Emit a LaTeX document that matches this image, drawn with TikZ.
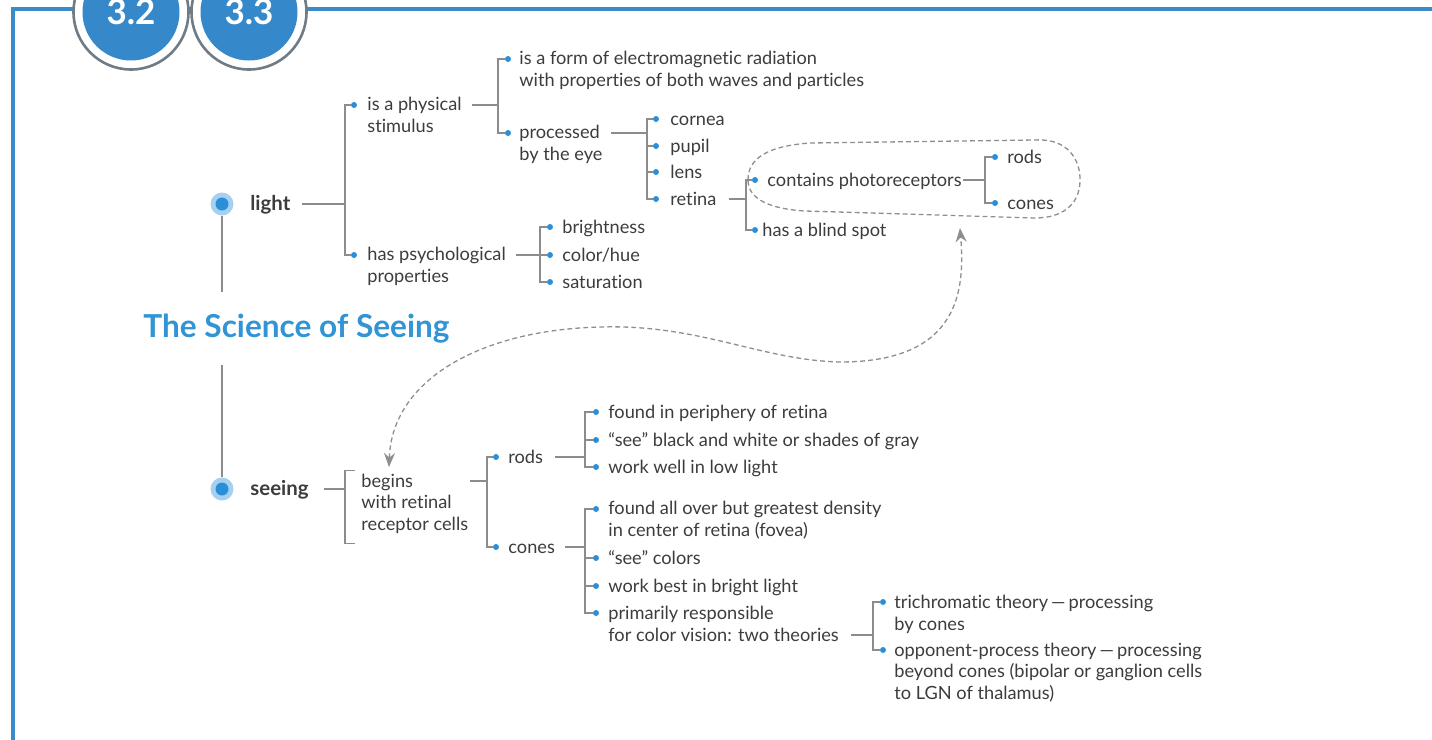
\documentclass[tikz,border=0pt]{standalone}
\usepackage{fontspec}
\setmainfont{Lato}[Ligatures=NoCommon]
\usepackage{tikz}
\usetikzlibrary{arrows.meta}

\definecolor{frameblue}{HTML}{3A8CC9}
\definecolor{badgeblue}{HTML}{3589CA}
\definecolor{ringgray}{HTML}{6F7B85}
\definecolor{dotblue}{HTML}{2B8FD7}
\definecolor{haloblue}{HTML}{A6D0F0}
\definecolor{titleblue}{HTML}{3094D5}
\definecolor{linegray}{HTML}{8C8C8C}
\definecolor{dashgray}{HTML}{8E8E8E}
\definecolor{textgray}{HTML}{3C3C3C}

\begin{document}
\begin{tikzpicture}[x=0.5pt, y=-0.5pt,
  frame/.style={draw=frameblue, line width=1.8pt},
  ring/.style={draw=ringgray, line width=1.3pt, fill=white},
  badge/.style={text=white, font=\bfseries\fontsize{17.5}{20}\selectfont},
  halo/.style={circle, fill=haloblue, inner sep=0pt, minimum size=11.5pt},
  core/.style={circle, fill=dotblue, inner sep=0pt, minimum size=6.5pt},
  topic/.style={anchor=mid west, inner sep=0pt, yshift=-0.5pt, text=textgray, font=\bfseries\fontsize{10.2}{12}\selectfont},
  heading/.style={anchor=base west, inner sep=0pt, text=titleblue, font=\bfseries\fontsize{15.8}{18}\selectfont},
  item/.style={anchor=mid west, inner sep=0pt, yshift=-0.5pt, align=left, text=textgray, font=\fontsize{9.1}{10.75}\selectfont},
  bullet/.style={circle, fill=dotblue, inner sep=0pt, minimum size=3pt},
  link/.style={draw=linegray, line width=0.6pt},
  dashlink/.style={draw=dashgray, line width=0.65pt, dash pattern=on 2.4pt off 1.6pt},
  twohead/.style={{Stealth[length=7pt,width=5.5pt]}-{Stealth[length=7pt,width=5.5pt]}}]
\useasboundingbox (0,0) rectangle (1432,740);

% frame and section badges
\draw[frame] (13,740) -- (13,9) -- (1432,9);
\foreach \cx/\num/\nm in {131/3.2/ba, 249/3.3/bb} {
  \draw[ring] (\cx,12) circle (57.5);
  \fill[badgeblue] (\cx,12) circle (48.5);
  \node[badge] (\nm) at (\cx,12) {\num};
}

% main topics
\node[halo] (ldot) at (222,204) {};
\node[core] (ldotc) at (222,204) {};
\node[topic] (light) at (250,204) {light};
\node[halo] (sdot) at (222,489) {};
\node[core] (sdotc) at (222,489) {};
\node[topic] (seeing) at (250,489) {seeing};
\node[heading] (title) at (143,337) {The Science of Seeing};
\draw[link] (ldot) -- ++(0,88);
\draw[link] (sdot) -- ++(0,-124);

% light (multi-line items are placed by their last line)
\node[bullet] (d1) at (354,105) {}; \node[item] (phys) at (367,126) {is a physical\\stimulus};
\node[bullet] (d2) at (354,255) {}; \node[item] (psych) at (367,276) {has psychological\\properties};
\coordinate (j1) at (345,204);
\draw[link] (j1 -| light.east) ++(11,0) -- (j1) |- (d1);
\draw[link] (j1) |- (d2);

\node[bullet] (d3) at (508,59) {}; \node[item] (form) at (519,80) {is a form of electromagnetic radiation\\with properties of both waves and particles};
\node[bullet] (d4) at (508,133) {}; \node[item] (proc) at (519,154) {processed\\by the eye};
\coordinate (j2) at (498,105);
\draw[link] (j2 -| phys.east) ++(10,0) -- (j2) |- (d3);
\draw[link] (j2) |- (d4);

\node[bullet] (d5) at (656,119) {}; \node[item] (cornea) at (670,119) {cornea};
\node[bullet] (d6) at (656,146) {}; \node[item] (pupil) at (670,146) {pupil};
\node[bullet] (d7) at (656,172) {}; \node[item] (lens) at (670,172) {lens};
\node[bullet] (d8) at (656,199) {}; \node[item] (retina) at (670,199) {retina};
\coordinate (j3) at (647,133);
\draw[link] (j3 -| proc.east) ++(8,0) -- (j3) |- (d5);
\foreach \d in {d6,d7,d8} \draw[link] (j3) |- (\d);

\node[bullet] (d9) at (755,180) {}; \node[item] (photo) at (767,180) {contains photoreceptors};
\node[bullet] (d10) at (755,230) {}; \node[item] (blind) at (762,230) {has a blind spot};
\coordinate (j4) at (746,199);
\draw[link] (j4 -| retina.east) ++(12,0) -- (j4) |- (d9);
\draw[link] (j4) |- (d10);

\node[bullet] (d11) at (995,157) {}; \node[item] (prods) at (1007,157) {rods};
\node[bullet] (d12) at (995,203) {}; \node[item] (pcones) at (1007,203) {cones};
\coordinate (j5) at (985,180);
\draw[link] (j5 -| photo.east) ++(1,0) -- (j5) |- (d11);
\draw[link] (j5) |- (d12);

\node[bullet] (d13) at (550,227) {}; \node[item] (bright) at (562,227) {brightness};
\node[bullet] (d14) at (550,255) {}; \node[item] (hue) at (562,255) {color/hue};
\node[bullet] (d15) at (550,282) {}; \node[item] (sat) at (562,282) {saturation};
\coordinate (j6) at (540,255);
\draw[link] (j6 -| psych.east) ++(10,0) -- (j6) |- (d13);
\foreach \d in {d14,d15} \draw[link] (j6) |- (\d);

% photoreceptors highlight
\draw[dashlink] (748,180) .. controls (748,158) and (768,146) .. (810,143)
  -- (1035,140) .. controls (1068,138) and (1081,160) .. (1080,182)
  .. controls (1079,205) and (1062,218) .. (1035,218)
  -- (805,211) .. controls (772,209) and (748,200) .. cycle;

% seeing
\node[item] (begins) at (361,524) {begins\\with retinal\\receptor cells};
\coordinate (sj) at (345,489);
\draw[link] (sj -| seeing.east) ++(15,0) -- (sj);
\draw[link] ([xshift=-3pt,yshift=1.5pt]begins.north west) -- ++(-10,0) |- ([xshift=-3pt,yshift=-5pt]begins.south west);

\node[bullet] (e1) at (496,457) {}; \node[item] (rods) at (508,457) {rods};
\node[bullet] (e2) at (496,547) {}; \node[item] (cones) at (508,547) {cones};
\coordinate (j7) at (487,481);
\draw[link] (j7 -| begins.east) ++(1,0) -- (j7) |- (e1);
\draw[link] (j7) |- (e2);

\node[bullet] (e3) at (596,412) {}; \node[item] (periph) at (608,412) {found in periphery of retina};
\node[bullet] (e4) at (596,440) {}; \node[item] (bw) at (608,440) {“see” black and white or shades of gray};
\node[bullet] (e5) at (596,467) {}; \node[item] (low) at (608,467) {work well in low light};
\coordinate (j8) at (585,457);
\draw[link] (j8 -| rods.east) ++(12,0) -- (j8) |- (e3);
\foreach \d in {e4,e5} \draw[link] (j8) |- (\d);

\node[bullet] (e6) at (596,509) {}; \node[item] (fovea) at (608,530) {found all over but greatest density\\in center of retina (fovea)};
\node[bullet] (e7) at (596,558) {}; \node[item] (colors) at (608,558) {“see” colors};
\node[bullet] (e8) at (596,586) {}; \node[item] (brightl) at (608,586) {work best in bright light};
\node[bullet] (e9) at (596,613) {}; \node[item] (primary) at (608,635) {primarily responsible\\for color vision: two theories};
\coordinate (j9) at (585,547);
\draw[link] (j9 -| cones.east) ++(10,0) -- (j9) |- (e6);
\foreach \d in {e7,e8,e9} \draw[link] (j9) |- (\d);

\node[bullet] (e10) at (883,602) {}; \node[item] (trich) at (894,624) {trichromatic theory\,—\,processing\\by cones};
\node[bullet] (e11) at (883,650) {}; \node[item] (opp) at (894,693) {opponent-process theory\,—\,processing\\beyond cones (bipolar or ganglion cells\\to LGN of thalamus)};
\coordinate (j10) at (873,635);
\draw[link] (j10 -| primary.east) ++(12,0) -- (j10) |- (e10);
\draw[link] (j10) |- (e11);

% link between retina and receptor cells
\draw[dashlink, twohead] (389,467) .. controls (392,380) and (480,330) .. (600,327)
  .. controls (700,324) and (760,360) .. (840,362)
  .. controls (960,362) and (965,290) .. (960,228);
\end{tikzpicture}
\end{document}
